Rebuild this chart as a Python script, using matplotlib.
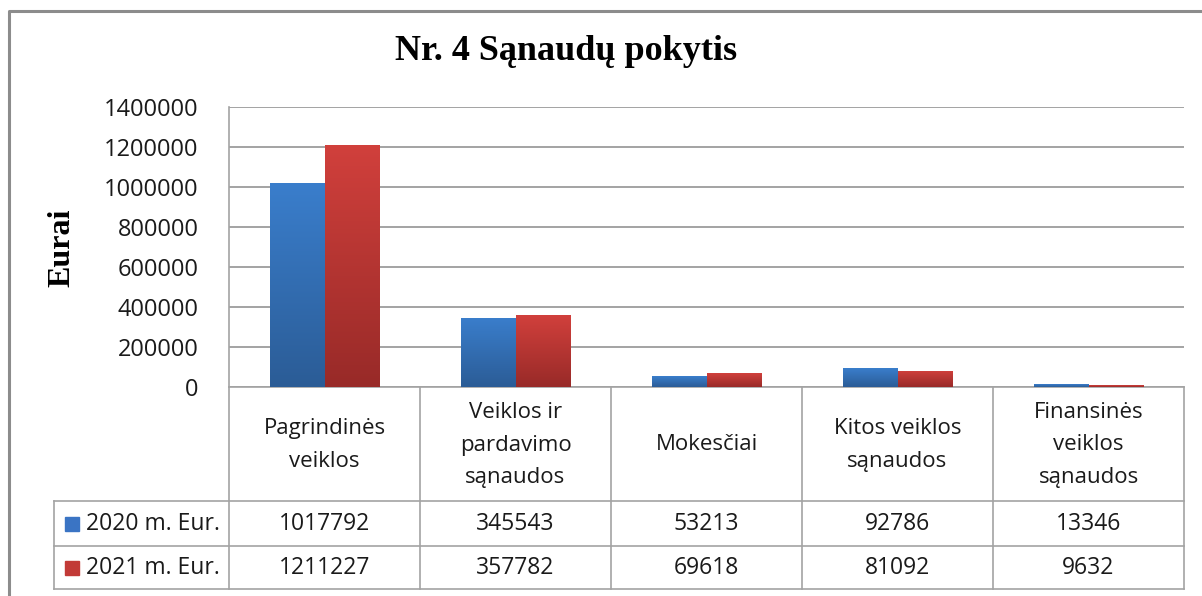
import numpy as np
import matplotlib
matplotlib.use("Agg")
import matplotlib.pyplot as plt
from matplotlib.colors import LinearSegmentedColormap
from matplotlib.lines import Line2D
from matplotlib.patches import Rectangle

# ---------------- data ----------------
categories = ["Pagrindinės\nveiklos", "Veiklos ir\npardavimo\nsąnaudos", "Mokesčiai",
              "Kitos veiklos\nsąnaudos", "Finansinės\nveiklos\nsąnaudos"]
series_names = ["2020 m. Eur.", "2021 m. Eur."]
values_2020 = [1017792, 345543, 53213, 92786, 13346]
values_2021 = [1211227, 357782, 69618, 81092, 9632]
yticks = [0, 200000, 400000, 600000, 800000, 1000000, 1200000, 1400000]
title = "Nr. 4 Sąnaudų pokytis"
ylabel = "Eurai"

# ---------------- styling ----------------
W, H = 1202, 596
SANS = ["Open Sans", "DejaVu Sans"]
SERIF = ["Liberation Serif", "DejaVu Serif"]
GRID = "#a3a3a3"
TXT = "#1a1a1a"
grads = [("#2b5c96", "#3a7ecc"), ("#982a28", "#d1403c")]
legend_cols = ["#3a74c4", "#c23a37"]

def fx(x):
    return x / W

def fy(y):
    return 1 - y / H

fig = plt.figure(figsize=(W / 100, H / 100), dpi=100)
fig.patch.set_facecolor("white")

ax_l, ax_r, ax_t, ax_b = 229, 1184, 107, 387
ax = fig.add_axes([fx(ax_l), fy(ax_b), fx(ax_r - ax_l), (ax_b - ax_t) / H])

n = len(categories)
x = np.arange(n)
bw = 0.285
series = [values_2020, values_2021]
offsets = [-bw / 2, bw / 2]
for vals, off, (cb, ct) in zip(series, offsets, grads):
    bars = ax.bar(x + off, vals, width=bw, color=ct, zorder=3, linewidth=0)
    cmap = LinearSegmentedColormap.from_list("g", [cb, ct])
    grad = np.linspace(0, 1, 256).reshape(-1, 1)
    for b in bars:
        x0, y0 = b.get_x(), b.get_y()
        w, h = b.get_width(), b.get_height()
        im = ax.imshow(grad, extent=(x0, x0 + w, y0, y0 + h), origin="lower",
                       cmap=cmap, aspect="auto", zorder=3.5, interpolation="bilinear")
        im.set_clip_path(b)

ax.set_xlim(-0.5, n - 0.5)
ax.set_ylim(0, yticks[-1])
ax.set_yticks(yticks)
ax.set_yticklabels([str(v) for v in yticks], fontsize=17, family=SANS, color=TXT)
ax.tick_params(axis="y", length=0, pad=22)
ax.set_xticks([])
ax.yaxis.grid(True, color=GRID, linewidth=1.4, zorder=0)
ax.set_axisbelow(True)
for s in ["top", "right"]:
    ax.spines[s].set_visible(False)
for s in ["left", "bottom"]:
    ax.spines[s].set_color(GRID)
    ax.spines[s].set_linewidth(1.2)

# ---------------- frame ----------------
fig.add_artist(Line2D([fx(9), fx(9), fx(W + 5)], [fy(H + 5), fy(11), fy(11)],
                      color="#8c8c8c", linewidth=2.2))

# ---------------- title & y label ----------------
fig.text(fx(566), fy(51), title, ha="center", va="center", fontsize=26,
         fontweight="bold", family=SERIF, color="black")
fig.text(fx(62), fy(248), ylabel, ha="center", va="center", rotation=90,
         fontsize=23, fontweight="bold", family=SERIF, color="black")

# ---------------- data table ----------------
row_top, row1, row2, row_bot = ax_b, 501, 546, 589
tbl_left = 54
cw = (ax_r - ax_l) / n

def line(xs, ys):
    fig.add_artist(Line2D([fx(v) for v in xs], [fy(v) for v in ys],
                          color=GRID, linewidth=1.2))

for k in range(n + 1):
    xx = ax_l + k * cw
    line([xx, xx], [row_top, row_bot])
line([tbl_left, tbl_left], [row1, row_bot])
for yy in (row1, row2, row_bot):
    line([tbl_left, ax_r], [yy, yy])

for k, cat in enumerate(categories):
    cx = ax_l + (k + 0.5) * cw
    fig.text(fx(cx), fy((row_top + row1) / 2 + 1), cat, ha="center", va="center",
             fontsize=16, family=SANS, color=TXT, linespacing=1.72)

row_centers = [(row1 + row2) / 2, (row2 + row_bot) / 2]
for vals, yc, name, col in zip(series, row_centers, series_names, legend_cols):
    for k, v in enumerate(vals):
        cx = ax_l + (k + 0.5) * cw
        fig.text(fx(cx), fy(yc), str(v), ha="center", va="center",
                 fontsize=16.5, family=SANS, color=TXT)
    fig.add_artist(Rectangle((fx(65), fy(yc + 7)), fx(14), 14 / H, color=col,
                             transform=fig.transFigure))
    fig.text(fx(86), fy(yc), name, ha="left", va="center",
             fontsize=16.5, family=SANS, color=TXT)

fig.savefig("out.png", dpi=100, facecolor="white")
